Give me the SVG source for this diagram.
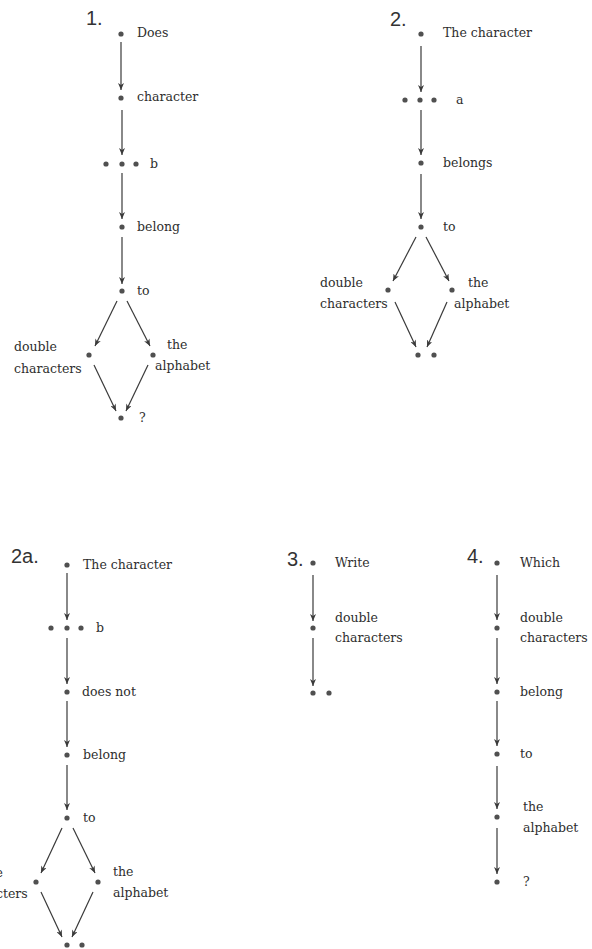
<svg xmlns="http://www.w3.org/2000/svg" width="592" height="949" viewBox="0 0 592 949">
<style>
.t{font-family:"DejaVu Serif","Liberation Serif",serif;font-size:12.5px;fill:#2e2e2e}
.n{font-family:"Liberation Sans",Arial,sans-serif;font-size:20px;fill:#333}
.d{fill:#505050}
.c line{stroke:#3a3a3a;stroke-width:1.2;marker-end:url(#ah)}
</style>
<defs>
<marker id="ah" markerUnits="userSpaceOnUse" markerWidth="7" markerHeight="6" refX="7" refY="3" orient="auto">
<path d="M0,0 L7,3 L0,6 L2,3 z" fill="#3a3a3a"/>
</marker>
</defs>
<rect width="592" height="949" fill="#fff"/>

<!-- Diagram 1 -->
<text class="n" x="86" y="25">1.</text>
<g id="d1-does"><circle class="d" cx="121" cy="34" r="2.6"/><text class="t" x="137" y="37">Does</text></g>
<g id="d1-character"><circle class="d" cx="121" cy="98" r="2.6"/><text class="t" x="137" y="101">character</text></g>
<g id="d1-b"><circle class="d" cx="106" cy="164" r="2.6"/><circle class="d" cx="122" cy="164" r="2.6"/><circle class="d" cx="136" cy="164" r="2.6"/><text class="t" x="150" y="168">b</text></g>
<g id="d1-belong"><circle class="d" cx="122" cy="227" r="2.6"/><text class="t" x="137" y="231">belong</text></g>
<g id="d1-to"><circle class="d" cx="122" cy="291" r="2.6"/><text class="t" x="137" y="295">to</text></g>
<g id="d1-double"><circle class="d" cx="89" cy="355" r="2.6"/><text class="t" x="14" y="351">double</text><text class="t" x="14" y="373">characters</text></g>
<g id="d1-alphabet"><circle class="d" cx="153" cy="355" r="2.6"/><text class="t" x="167" y="349">the</text><text class="t" x="155" y="370">alphabet</text></g>
<g id="d1-q"><circle class="d" cx="121" cy="418" r="2.6"/><text class="t" x="139" y="422">?</text></g>

<!-- Diagram 2 -->
<text class="n" x="390" y="26">2.</text>
<g id="d2-thechar"><circle class="d" cx="421" cy="34" r="2.6"/><text class="t" x="443" y="37">The character</text></g>
<g id="d2-a"><circle class="d" cx="405" cy="100" r="2.6"/><circle class="d" cx="420" cy="100" r="2.6"/><circle class="d" cx="434" cy="100" r="2.6"/><text class="t" x="456" y="104">a</text></g>
<g id="d2-belongs"><circle class="d" cx="421" cy="163" r="2.6"/><text class="t" x="443" y="167">belongs</text></g>
<g id="d2-to"><circle class="d" cx="421" cy="227" r="2.6"/><text class="t" x="443" y="231">to</text></g>
<g id="d2-double"><circle class="d" cx="388" cy="290" r="2.6"/><text class="t" x="320" y="287">double</text><text class="t" x="320" y="308">characters</text></g>
<g id="d2-alphabet"><circle class="d" cx="452" cy="290" r="2.6"/><text class="t" x="468" y="287">the</text><text class="t" x="454" y="308">alphabet</text></g>
<g id="d2-end"><circle class="d" cx="418" cy="355" r="2.6"/><circle class="d" cx="434" cy="355" r="2.6"/></g>

<!-- Diagram 2a -->
<text class="n" x="11" y="563">2a.</text>
<g id="d2a-thechar"><circle class="d" cx="67" cy="565" r="2.6"/><text class="t" x="83" y="569">The character</text></g>
<g id="d2a-b"><circle class="d" cx="51" cy="628" r="2.6"/><circle class="d" cx="67" cy="628" r="2.6"/><circle class="d" cx="81" cy="628" r="2.6"/><text class="t" x="96" y="632">b</text></g>
<g id="d2a-doesnot"><circle class="d" cx="67" cy="692" r="2.6"/><text class="t" x="82" y="696">does not</text></g>
<g id="d2a-belong"><circle class="d" cx="67" cy="755" r="2.6"/><text class="t" x="83" y="759">belong</text></g>
<g id="d2a-to"><circle class="d" cx="67" cy="818" r="2.6"/><text class="t" x="83" y="822">to</text></g>
<g id="d2a-double"><circle class="d" cx="36" cy="882" r="2.6"/><text class="t" x="-40" y="877">double</text><text class="t" x="-40" y="898">characters</text></g>
<g id="d2a-alphabet"><circle class="d" cx="98" cy="882" r="2.6"/><text class="t" x="113" y="876">the</text><text class="t" x="113" y="897">alphabet</text></g>
<g id="d2a-end"><circle class="d" cx="67" cy="945" r="2.6"/><circle class="d" cx="82" cy="945" r="2.6"/></g>

<!-- Diagram 3 -->
<text class="n" x="287" y="566">3.</text>
<g id="d3-write"><circle class="d" cx="313" cy="563" r="2.6"/><text class="t" x="335" y="567">Write</text></g>
<g id="d3-double"><circle class="d" cx="313" cy="628" r="2.6"/><text class="t" x="335" y="622">double</text><text class="t" x="335" y="642">characters</text></g>
<g id="d3-end"><circle class="d" cx="313" cy="693" r="2.6"/><circle class="d" cx="329" cy="693" r="2.6"/></g>

<!-- Diagram 4 -->
<text class="n" x="467" y="563">4.</text>
<g id="d4-which"><circle class="d" cx="497" cy="563" r="2.6"/><text class="t" x="520" y="567">Which</text></g>
<g id="d4-double"><circle class="d" cx="497" cy="628" r="2.6"/><text class="t" x="520" y="622">double</text><text class="t" x="520" y="642">characters</text></g>
<g id="d4-belong"><circle class="d" cx="497" cy="692" r="2.6"/><text class="t" x="520" y="696">belong</text></g>
<g id="d4-to"><circle class="d" cx="497" cy="754" r="2.6"/><text class="t" x="520" y="758">to</text></g>
<g id="d4-alphabet"><circle class="d" cx="497" cy="817" r="2.6"/><text class="t" x="523" y="811">the</text><text class="t" x="523" y="832">alphabet</text></g>
<g id="d4-q"><circle class="d" cx="497" cy="882" r="2.6"/><text class="t" x="523" y="886">?</text></g>

<g id="connectors" class="c">
<line x1="121" y1="42" x2="121" y2="90"/>
<line x1="122" y1="110" x2="122" y2="155"/>
<line x1="122" y1="173" x2="122" y2="219"/>
<line x1="122" y1="237" x2="122" y2="284"/>
<line x1="117" y1="301" x2="95" y2="346"/>
<line x1="127" y1="301" x2="150" y2="346"/>
<line x1="94" y1="365" x2="116" y2="411"/>
<line x1="148" y1="365" x2="126" y2="411"/>

<line x1="421" y1="46" x2="421" y2="92"/>
<line x1="421" y1="110" x2="421" y2="155"/>
<line x1="421" y1="174" x2="421" y2="219"/>
<line x1="416" y1="237" x2="393" y2="281"/>
<line x1="426" y1="237" x2="449" y2="281"/>
<line x1="395" y1="302" x2="416" y2="347"/>
<line x1="447" y1="302" x2="427" y2="347"/>

<line x1="67" y1="573" x2="67" y2="620"/>
<line x1="67" y1="638" x2="67" y2="684"/>
<line x1="67" y1="701" x2="67" y2="747"/>
<line x1="67" y1="765" x2="67" y2="810"/>
<line x1="62" y1="828" x2="41" y2="873"/>
<line x1="73" y1="828" x2="95" y2="873"/>
<line x1="41" y1="892" x2="62" y2="937"/>
<line x1="93" y1="892" x2="72" y2="937"/>

<line x1="313" y1="575" x2="313" y2="621"/>
<line x1="313" y1="638" x2="313" y2="686"/>

<line x1="497" y1="575" x2="497" y2="620"/>
<line x1="497" y1="638" x2="497" y2="684"/>
<line x1="497" y1="701" x2="497" y2="746"/>
<line x1="497" y1="766" x2="497" y2="809"/>
<line x1="497" y1="828" x2="497" y2="874"/>
</g>
</svg>
